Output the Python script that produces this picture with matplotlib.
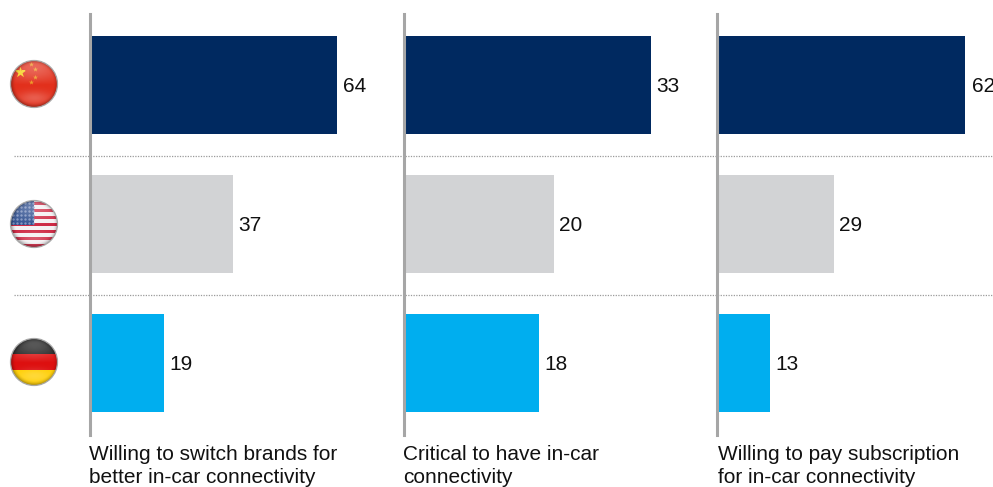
import numpy as np
import matplotlib
matplotlib.use("Agg")
import matplotlib.pyplot as plt
from matplotlib.patches import Circle, Rectangle

plt.rcParams['font.family'] = ['Liberation Sans', 'DejaVu Sans']

W, H = 993, 487

countries = ["China", "United States", "Germany"]
captions = [
    "Willing to switch brands for\nbetter in-car connectivity",
    "Critical to have in-car\nconnectivity",
    "Willing to pay subscription\nfor in-car connectivity",
]
switch_brands = [64, 37, 19]
critical = [33, 20, 18]
subscription = [62, 29, 13]
panel_values = [switch_brands, critical, subscription]
bar_colors = ["#002960", "#D2D3D5", "#00AEEF"]

# px gap between bar end and its number
label_gaps = [[6, 5, 5], [5, 5, 5], [7, 5, 6]]
panel_left = [91, 405, 718]
caption_left = [89, 403, 717.5]
top_bar_px = [246, 246, 247]
panel_width = 270

fig = plt.figure(figsize=(W / 100, H / 100), dpi=100)
fig.patch.set_facecolor("white")


def px_axes(x0, y0, x1, y1, **kw):
    # axes placed by pixel box, y measured from the top
    return fig.add_axes([x0 / W, 1 - y1 / H, (x1 - x0) / W, (y1 - y0) / H], **kw)


# background layer in pixel units: row separators and flags
bg = px_axes(0, 0, W, H)
bg.set_xlim(0, W)
bg.set_ylim(H, 0)
bg.axis("off")
for y in [156, 295]:
    bg.plot([14, W], [y, y], color="#9a9a9a", lw=0.9, ls=(0, (1, 1.1)), zorder=1)


def draw_gloss(ax, cx, cy, r, clip):
    n = 96
    yy, xx = np.mgrid[-1:1:n * 1j, -1:1:n * 1j]
    rr = np.sqrt(xx ** 2 + yy ** 2)
    rgba = np.zeros((n, n, 4))
    # white sheen over the top half, fading downward
    sheen = np.clip(0.55 * (-yy + 0.05), 0, 0.5) * np.clip(1.05 - rr, 0, 1) ** 0.4
    # bright patch low down
    low = 0.22 * np.exp(-((yy - 0.62) ** 2) / 0.08 - (xx ** 2) / 0.5)
    rgba[..., :3] = 1
    rgba[..., 3] = np.clip(sheen + low, 0, 1)
    im = ax.imshow(rgba, extent=(cx - r, cx + r, cy + r, cy - r), zorder=4,
                   interpolation="bilinear", aspect="auto")
    im.set_clip_path(clip)
    # dark falloff at the rim
    rim = np.zeros((n, n, 4))
    rim[..., 3] = np.clip((rr - 0.8) / 0.2, 0, 1) ** 2 * 0.3
    im2 = ax.imshow(rim, extent=(cx - r, cx + r, cy + r, cy - r), zorder=5,
                    interpolation="bilinear", aspect="auto")
    im2.set_clip_path(clip)


def china_flag(ax, cx, cy, r, clip):
    p = ax.add_patch(Rectangle((cx - r, cy - r), 2 * r, 2 * r, color="#E2301C", zorder=2))
    p.set_clip_path(clip)
    big = ax.scatter([cx - 14], [cy - 12], marker="*", s=70, color="#F7D21E", lw=0, zorder=3)
    big.set_clip_path(clip)
    small = ax.scatter([cx - 3, cx + 1, cx + 1, cx - 3], [cy - 20, cy - 15, cy - 7, cy - 2],
                       marker="*", s=14, color="#EE9A20", lw=0, zorder=3)
    small.set_clip_path(clip)


def us_flag(ax, cx, cy, r, clip):
    p = ax.add_patch(Rectangle((cx - r, cy - r), 2 * r, 2 * r, color="#F4F0F2", zorder=2))
    p.set_clip_path(clip)
    for k in range(7):
        top = cy - r + 1 + k * 7.0
        s = ax.add_patch(Rectangle((cx - r, top), 2 * r, 3.5, color="#CE2A45", lw=0, zorder=2.2))
        s.set_clip_path(clip)
    canton = ax.add_patch(Rectangle((cx - r, cy - r), r, r + 1, color="#2F4F8F", lw=0, zorder=2.5))
    canton.set_clip_path(clip)
    sx, sy = np.meshgrid(np.arange(cx - r + 2, cx, 4.0), np.arange(cy - r + 2, cy, 4.0))
    dots = ax.scatter(sx.ravel(), sy.ravel(), s=3, color="#7F93BF", lw=0, zorder=3)
    dots.set_clip_path(clip)


def germany_flag(ax, cx, cy, r, clip):
    bands = [("#1A1A1A", -r, 2 * r / 3 - 0.5), ("#DD1010", -r / 3 - 0.5, 2 * r / 3 + 0.5),
             ("#FFCE00", r / 3, 2 * r / 3)]
    for color, top, height in bands:
        p = ax.add_patch(Rectangle((cx - r, cy + top), 2 * r, height, color=color, lw=0, zorder=2))
        p.set_clip_path(clip)


flag_funcs = [china_flag, us_flag, germany_flag]
flag_centers = [(34, 84), (34, 224), (34, 362)]
for func, (cx, cy) in zip(flag_funcs, flag_centers):
    r = 23.5
    clip = Circle((cx, cy), r, transform=bg.transData)
    func(bg, cx, cy, r, clip)
    draw_gloss(bg, cx, cy, r, clip)
    bg.add_patch(Circle((cx, cy), r, fill=False, ec="#a8a8a8", lw=0.9, zorder=6))
bg.set_xlim(0, W)
bg.set_ylim(H, 0)

# bar panels
y_pos = np.arange(3)
for i, values in enumerate(panel_values):
    ax = px_axes(panel_left[i], 14, panel_left[i] + panel_width, 435)
    ax.patch.set_alpha(0)
    # the longest bar in each panel runs to about the same length
    ax.set_xlim(0, values[0] * panel_width / top_bar_px[i])
    ax.set_ylim((435 - 85) / 139, -(85 - 14) / 139)
    ax.barh(y_pos, values, height=0.705, color=bar_colors)
    for j, v in enumerate(values):
        ax.annotate(str(v), (v, j), xytext=(label_gaps[i][j] * 0.72, -1.1), textcoords="offset points",
                    va="center", ha="left", fontsize=15, color="#111111",
                    annotation_clip=False, clip_on=False)
    ax.set_xticks([])
    ax.set_yticks([])
    for side in ["top", "right", "bottom"]:
        ax.spines[side].set_visible(False)
    ax.spines["left"].set_color("#A6A6A6")
    ax.spines["left"].set_linewidth(2.2)
    ax.spines["left"].set_position(("outward", 1))
    fig.text(caption_left[i] / W, 1 - 444.5 / H, captions[i], fontsize=15, color="#111111",
             va="top", ha="left", linespacing=1.3)

fig.savefig("out.png", dpi=100)
